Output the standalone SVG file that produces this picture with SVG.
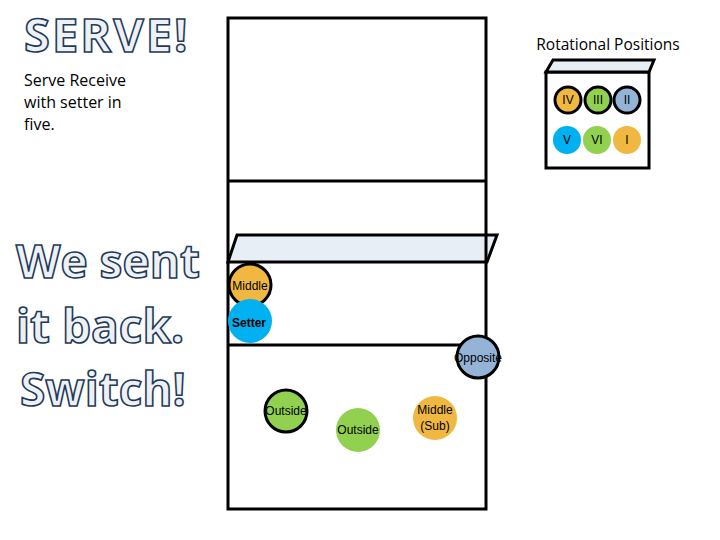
<svg xmlns="http://www.w3.org/2000/svg" width="720" height="540" viewBox="0 0 720 540">
<defs><style>
.ol{font-family:"Open Sans","DejaVu Sans",sans-serif;font-weight:bold;fill:#eef1f4;stroke:#1f3a5a;stroke-width:1.6}
.t{font-family:"Open Sans","Liberation Sans",sans-serif;fill:#000}
.ln{fill:none;stroke:#000;stroke-width:3}
.net{fill:#e8eef6;stroke:#000;stroke-width:3}
.k{stroke:#000;stroke-width:3}
.lab{font-family:"Liberation Sans",sans-serif;font-size:12px;text-anchor:middle;fill:#000}
</style></defs>
<text class="ol" x="24" y="52" font-size="47" letter-spacing="2">SERVE!</text>
<text class="t" font-size="16"><tspan x="24" y="86">Serve Receive</tspan><tspan x="24" y="108">with setter in</tspan><tspan x="24" y="130">five.</tspan></text>
<text class="ol" font-size="46"><tspan x="16" y="278">We sent</tspan><tspan x="16" y="343">it back.</tspan><tspan x="20" y="406">Switch!</tspan></text>
<g id="court">
<rect class="ln" x="228" y="18" width="258" height="491"/>
<line class="ln" x1="228" y1="181" x2="486" y2="181"/>
<line class="ln" x1="228" y1="345" x2="486" y2="345"/>
<polygon class="net" points="237,235 497,235 487,262 228,262"/>
<line class="ln" x1="486" y1="235" x2="486" y2="262" stroke="#555"/>
</g>
<g id="rotation">
<text class="t" x="608" y="50" font-size="15.5" text-anchor="middle">Rotational Positions</text>
<rect class="ln" x="546" y="72" width="103" height="96"/>
<polygon class="net" points="553,60 654,60 649,72 546,72"/>
<g id="r4"><circle class="k" cx="568" cy="100" r="13" fill="#f0b840"/><text class="lab" x="568" y="104">IV</text></g>
<g id="r3"><circle class="k" cx="598" cy="100" r="13" fill="#92d050"/><text class="lab" x="598" y="104">III</text></g>
<g id="r2"><circle class="k" cx="627" cy="100" r="13" fill="#95b3d7"/><text class="lab" x="627" y="104">II</text></g>
<g id="r5"><circle cx="567" cy="140" r="14" fill="#00b0f0"/><text class="lab" x="567" y="144">V</text></g>
<g id="r6"><circle cx="597" cy="140" r="14" fill="#92d050"/><text class="lab" x="597" y="144">VI</text></g>
<g id="r1"><circle cx="627" cy="140" r="14" fill="#f0b840"/><text class="lab" x="627" y="144">I</text></g>
</g>
<g id="middle"><circle class="k" cx="250" cy="285" r="21" fill="#f0b840"/><text class="lab" x="250" y="290" font-size="13">Middle</text></g>
<g id="setter"><circle cx="250" cy="321" r="22" fill="#00b0f0"/><text class="lab" x="249" y="327" font-size="15" font-weight="bold">Setter</text></g>
<g id="opposite"><circle class="k" cx="478" cy="357" r="21" fill="#95b3d7"/><text class="lab" x="478" y="362" font-size="13">Opposite</text></g>
<g id="outside1"><circle class="k" cx="286" cy="411" r="21" fill="#92d050"/><text class="lab" x="286" y="415" font-size="11">Outside</text></g>
<g id="outside2"><circle cx="358" cy="430" r="22" fill="#92d050"/><text class="lab" x="358" y="434" font-size="11">Outside</text></g>
<g id="middlesub"><circle cx="435" cy="418" r="22" fill="#f0b840"/><text class="lab" font-size="13"><tspan x="435" y="414">Middle</tspan><tspan x="435" y="430">(Sub)</tspan></text></g>
</svg>
